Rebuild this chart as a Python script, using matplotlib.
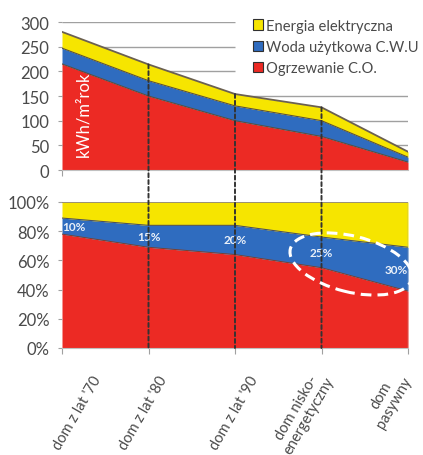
import matplotlib
matplotlib.use("Agg")
import matplotlib.pyplot as plt
import matplotlib.transforms as mtrans
from matplotlib.patches import Patch, Ellipse, ConnectionPatch

plt.rcParams["font.family"] = ["Lato", "DejaVu Sans"]

# --- dane ---
domy = ["dom z lat '70", "dom z lat '80", "dom z lat '90", "dom nisko-\nenergetyczny", "dom\npasywny"]
ogrzewanie = [215, 150, 100, 68, 16]      # kWh/m2rok
woda = [32, 31, 30, 32, 10]
prad = [33, 33, 24, 27, 11]
ogrz_pct = [78, 69, 64, 55, 39]           # %
woda_pct = [11, 15, 20, 21, 30]
etykiety_pct = ["10%", "15%", "20%", "25%", "30%"]
yticks_abs = [0, 50, 100, 150, 200, 250, 300]
yticks_pct = [0, 20, 40, 60, 80, 100]
legenda = ["Energia elektryczna", "Woda użytkowa C.W.U", "Ogrzewanie C.O."]

RED, BLUE, YEL = "#ec2a24", "#2f6cbf", "#f6e500"
EDGE = "#5a5040"
TXT = "#4a4a4a"

x = list(range(len(domy)))
fig = plt.figure(figsize=(4.23, 4.56), dpi=100)
ax1 = fig.add_axes([62/423, (456-171)/456, 346/423, 148/456])
ax2 = fig.add_axes([62/423, (456-349)/456, 346/423, 146/456])

# górny wykres: kWh/m2rok
s1 = ogrzewanie
s2 = [a + b for a, b in zip(s1, woda)]
s3 = [a + b for a, b in zip(s2, prad)]
for y, xmax in zip(yticks_abs[1:], [4, 4, 4, 2, 2, 2]):
    ax1.hlines(y, 0, xmax, color="#a0a0a0", lw=1, zorder=0)
ax1.fill_between(x, 0, s1, color=RED, lw=0, zorder=1)
ax1.fill_between(x, s1, s2, color=BLUE, lw=0, zorder=1)
ax1.fill_between(x, s2, s3, color=YEL, lw=0, zorder=1)
ax1.plot(x, s1, color=EDGE, lw=0.8, zorder=2)
ax1.plot(x, s2, color=EDGE, lw=0.8, zorder=2)
ax1.plot(x, s3, color="#6b6050", lw=1.3, zorder=2)
ax1.vlines(4, 0, s3[-1], color="#8a8a8a", lw=0.8, zorder=2)
ax1.set_xlim(0, 4)
ax1.set_ylim(0, 300)
ax1.set_yticks(yticks_abs)
ax1.set_xticks([0])
ax1.set_xticklabels([])
ax1.text(0.245, 28, "kWh/m²rok", rotation=90, color="white", fontsize=12,
         ha="center", va="bottom")

# dolny wykres: udział %
p1 = ogrz_pct
p2 = [a + b for a, b in zip(p1, woda_pct)]
ax2.fill_between(x, 0, p1, color=RED, lw=0)
ax2.fill_between(x, p1, p2, color=BLUE, lw=0)
ax2.fill_between(x, p2, 100, color=YEL, lw=0)
ax2.plot(x, p1, color="#7a4030", lw=0.7)
ax2.plot(x, p2, color="#4a5060", lw=0.8)
ax2.hlines(100, 0, 4, color="#8a8070", lw=1.2)
ax2.vlines(4, 0, 100, color="#a0a0a0", lw=1)
ax2.set_xlim(0, 4)
ax2.set_ylim(0, 100)
ax2.set_yticks(yticks_pct)
ax2.set_yticklabels([f"{v}%" for v in yticks_pct])
ax2.set_xticks(x)
ax2.set_xticklabels([])
for i, lab in enumerate(etykiety_pct):
    ha = "left" if i == 0 else ("right" if i == len(x) - 1 else "center")
    ax2.text(x[i], (p1[i] + p2[i]) / 2, lab, color="white", fontsize=8.5,
             fontweight="bold", ha=ha, va="center", alpha=0.9)

for ax in (ax1, ax2):
    for sp in ("top", "right"):
        ax.spines[sp].set_visible(False)
    ax.spines["left"].set_visible(False)
    ax.spines["bottom"].set_color("#c0c0c0")
    ax.tick_params(axis="y", length=3, color="#a0a0a0", labelsize=12,
                   labelcolor=TXT, pad=6)
    ax.tick_params(axis="x", length=4, color="#a0a0a0")

# etykiety osi X (obrócone, przesunięte w pikselach)
przes = [39, 19, 23, 12, 3]
base = mtrans.blended_transform_factory(ax2.transData, ax2.transAxes)
for i, lab in enumerate(domy):
    off = mtrans.ScaledTranslation(przes[i] / 100, -0.31, fig.dpi_scale_trans)
    ax2.text(x[i], 0, lab, transform=base + off, rotation=60, ha="right",
             va="baseline", rotation_mode="anchor", multialignment="center",
             fontsize=10.5, color=TXT, linespacing=1.05)

# przerywane linie łączące
for i in x[1:4]:
    con = ConnectionPatch(xyA=(i, s3[i]), coordsA=ax1.transData,
                          xyB=(i, 0), coordsB=ax2.transData,
                          color="#333333", lw=1.4, ls=(0, (2, 1.5)))
    fig.add_artist(con)

# elipsa
el = Ellipse((3.51, 1.91), 1.25, 0.56, angle=-14, transform=fig.dpi_scale_trans,
             fill=False, ec="white", lw=2.2, ls=(0, (3.5, 2)))
fig.add_artist(el)

# legenda
handles = [Patch(fc=c, ec="#303030", lw=0.8) for c in (YEL, BLUE, RED)]
fig.legend(handles, legenda, loc="upper left", bbox_to_anchor=(253/423, 0.957),
           frameon=False, fontsize=10.6, handlelength=0.7, handleheight=0.7,
           handletextpad=0.2, borderpad=0, borderaxespad=0, labelspacing=0.5,
           labelcolor=TXT)

fig.savefig("out.png", dpi=100, facecolor="white")
